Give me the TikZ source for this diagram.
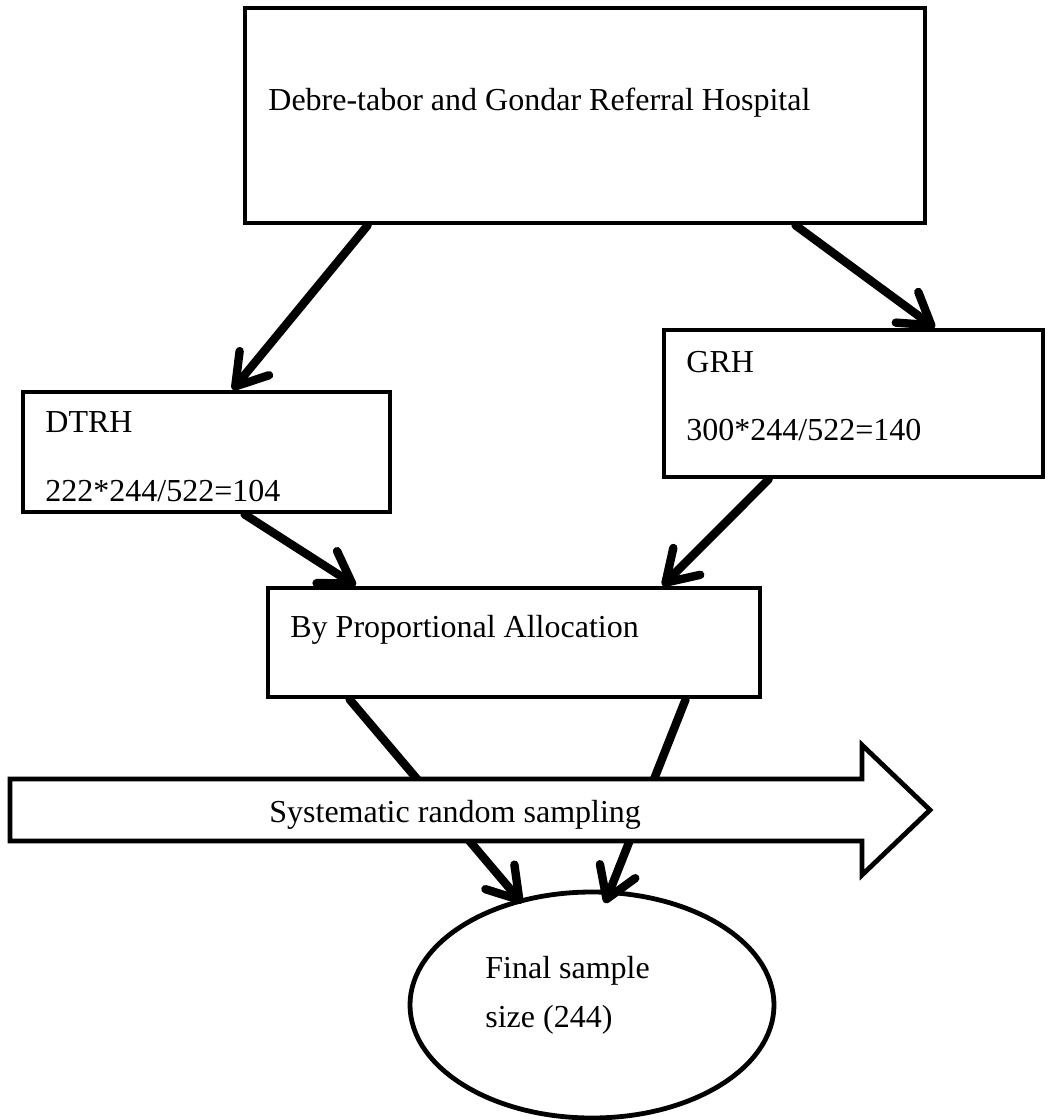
\documentclass[tikz,border=0pt]{standalone}
\usepackage{fontspec}
\setmainfont{Liberation Serif}
\usetikzlibrary{arrows.meta,calc,fit,shapes.geometric}
\begin{document}
\begin{tikzpicture}[x=0.5pt,y=-0.5pt,
  box/.style={draw, line width=2.4pt, inner sep=0pt, fill=white},
  lbl/.style={anchor=base west, inner sep=0pt, font=\fontsize{16}{19}\selectfont},
  arr/.style={line width=4.2pt, line cap=round,
    -{Straight Barb[length=15pt,width=19pt,line cap=round,round]}},
  ]
\useasboundingbox (0,0) rectangle (1048,1120);
% boxes
\node[box, fit={(245,8) (925,223)}] (top) {};
\node[box, fit={(23,392) (390,512)}] (dtrh) {};
\node[box, fit={(664,330) (1043,477)}] (grh) {};
\node[box, fit={(268,588) (760,697)}] (prop) {};
\node[draw, ellipse, line width=2.4pt, fill=white, inner sep=0pt,
      minimum width=182pt, minimum height=113pt] (ell) at (592,1005) {};
% texts
\node[lbl] (ttop) at (268,110) {Debre-tabor and Gondar Referral Hospital};
\node[lbl] (tdtrh) at (45,432) {DTRH};
\node[lbl] (tdtrhn) at (45,501) {222*244/522=104};
\node[lbl] (tgrh) at (686,372) {GRH};
\node[lbl] (tgrhn) at (686,440) {300*244/522=140};
\node[lbl] (tprop) at (290,637) {By Proportional Allocation};
\node[lbl] (tfin1) at (485,978) {Final sample};
\node[lbl] (tfin2) at (485,1027) {size (244)};
% connectors
\draw[arr] ($(top.south west)+(125,0)$) -- ($(dtrh.north west)+(212,0)$);
\draw[arr] ($(top.south west)+(553,0)$) -- ($(grh.north west)+(273,0)$);
\draw[arr] ($(dtrh.south west)+(224,0)$) -- ($(prop.north west)+(90,0)$);
\draw[arr] ($(grh.south west)+(107,0)$) -- ($(prop.north west)+(397,0)$);
\draw[arr] ($(prop.south west)+(84,0)$) -- ($(ell.center)+(-70,-102)$);
\draw[arr] ($(prop.south west)+(420,0)$) -- ($(ell.center)+(13,-102)$);
% block arrow
\draw[line width=2.4pt, fill=white, line join=miter]
  (10,779) -- (862,779) -- (862,745) -- (930,810) -- (862,875) -- (862,841) -- (10,841) -- cycle;
\node[lbl] (tsys) at (269,822) {Systematic random sampling};
\end{tikzpicture}
\end{document}
